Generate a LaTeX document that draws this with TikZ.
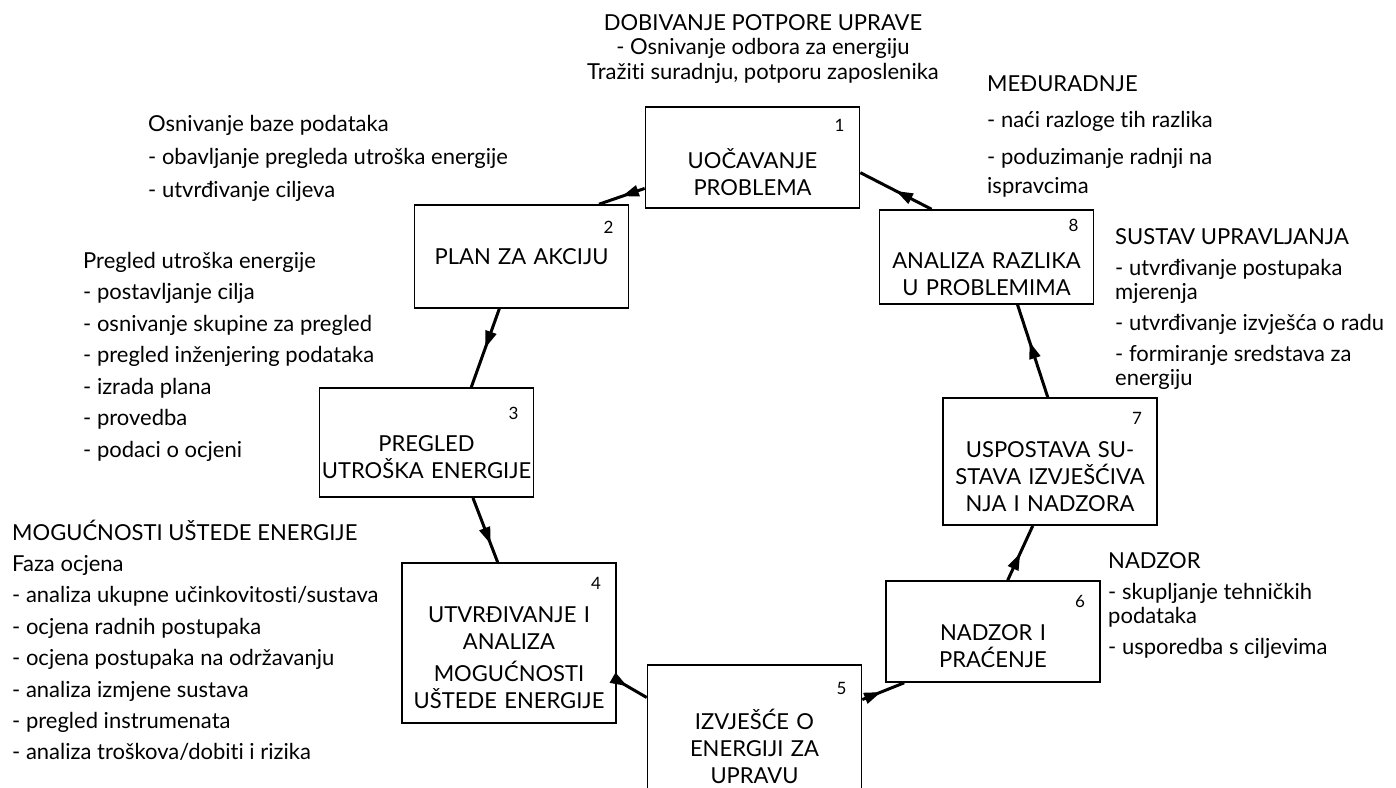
\documentclass[tikz,border=0pt]{standalone}
\usepackage{fontspec}
\setmainfont{Lato}[Ligatures=NoCommon]
\usetikzlibrary{arrows.meta,decorations.markings}
\newcommand{\boxno}[1]{\hspace*{\fill}{\fontsize{17}{17}\selectfont #1}\rule{13pt}{0pt}}

\begin{document}
\begin{tikzpicture}[x=1pt,y=-1pt,
  stepbox/.style={draw,line width=1.6pt,minimum width=214pt,inner sep=2pt,text width=210pt,align=center,font=\fontsize{22}{27}\selectfont},
  flow/.style={line width=3pt,decoration={markings,mark=at position #1 with {\arrow{Triangle[length=17pt,width=11pt]}}},postaction={decorate}},
  flow/.default=0.5,
  side/.style={inner sep=0pt,anchor=base west}]
\clip (0,0) rectangle (1396,787);
% koraci
\node[stepbox,minimum height=101pt] (b1) at (752.5,157.5) {\boxno{1}\\[10pt] UOČAVANJE\\ PROBLEMA};
\node[stepbox,minimum height=103pt] (b2) at (521.5,256.5) {\boxno{2}\\[4pt] PLAN ZA AKCIJU\\ \mbox{}};
\node[stepbox,minimum height=109pt] (b3) at (426.5,442.5) {\boxno{3}\\[5pt] PREGLED\\ UTROŠKA ENERGIJE};
\node[stepbox,minimum height=160pt] (b4) at (509,643) {\boxno{4}\\[6pt] UTVRĐIVANJE I\\ ANALIZA\\[5pt] MOGUĆNOSTI\\ UŠTEDE ENERGIJE};
\node[stepbox,minimum height=135pt] (b5) at (754.5,732.5) {\boxno{5}\\[8pt] IZVJEŠĆE O\\ ENERGIJI ZA\\ UPRAVU};
\node[stepbox,minimum height=101pt] (b6) at (993,631.5) {\boxno{6}\\[6pt] NADZOR I\\ PRAĆENJE};
\node[stepbox,minimum height=127pt] (b7) at (1050,461.5) {\boxno{7}\\[6pt] USPOSTAVA SU-\\ STAVA IZVJEŠĆIVA\\ NJA I NADZORA};
\node[stepbox,minimum height=94pt] (b8) at (986.5,257) {\boxno{8}\\[10pt] ANALIZA RAZLIKA\\ U PROBLEMIMA};
% krug
\draw[flow] (b1.196) -- (b2.34);
\draw[flow] (b2.247) -- (b3.51);
\draw[flow=0.72] (b3.310) -- (b4.98);
\draw[flow=0.35] (b4.341) -- (b5.162);
\draw[flow=0.45] (b5.17) -- (b6.210);
\draw[flow] (b6.74) -- (b7.255);
\draw[flow=0.6] (b7.92) -- (b8.303);
\draw[flow] (b8.139) -- (b1.352);
% opisi
\node[inner sep=0pt,anchor=base] (uprava) at (763,30) {\fontsize{22}{24.5}\selectfont\begin{tabular}[t]{@{}c@{}}DOBIVANJE POTPORE UPRAVE\\ - Osnivanje odbora za energiju\\ Tražiti suradnju, potporu zaposlenika\end{tabular}};
\node[side] (baza) at (148,131) {\fontsize{22}{33}\selectfont\begin{tabular}[t]{@{}l@{}}Osnivanje baze podataka\\ - obavljanje pregleda utroška energije\\ - utvrđivanje ciljeva\end{tabular}};
\node[side] (pregled) at (83,268) {\fontsize{22}{31.5}\selectfont\begin{tabular}[t]{@{}l@{}}Pregled utroška energije\\ - postavljanje cilja\\ - osnivanje skupine za pregled\\ - pregled inženjering podataka\\ - izrada plana\\ - provedba\\ - podaci o ocjeni\end{tabular}};
\node[side] (ustede) at (12,540) {\fontsize{22}{31.4}\selectfont\begin{tabular}[t]{@{}l@{}}MOGUĆNOSTI UŠTEDE ENERGIJE\\ Faza ocjena\\ - analiza ukupne učinkovitosti/sustava\\ - ocjena radnih postupaka\\ - ocjena postupaka na održavanju\\ - analiza izmjene sustava\\ - pregled instrumenata\\ - analiza troškova/dobiti i rizika\end{tabular}};
\node[side] (meduradnje) at (987,91) {\fontsize{22}{36.5}\selectfont\begin{tabular}[t]{@{}l@{}}MEĐURADNJE\\ - naći razloge tih razlika\\ - poduzimanje radnji na\\[-7pt] ispravcima\end{tabular}};
\node[side] (sustav) at (1115,244) {\fontsize{22}{31}\selectfont\begin{tabular}[t]{@{}l@{}}SUSTAV UPRAVLJANJA\\ - utvrđivanje postupaka\\[-7pt] mjerenja\\ - utvrđivanje izvješća o radu\\ - formiranje sredstava za\\[-7pt] energiju\end{tabular}};
\node[side] (nadzor) at (1108,568) {\fontsize{22}{31.5}\selectfont\begin{tabular}[t]{@{}l@{}}NADZOR\\ - skupljanje tehničkih\\[-8pt] podataka\\ - usporedba s ciljevima\end{tabular}};
\end{tikzpicture}
\end{document}
